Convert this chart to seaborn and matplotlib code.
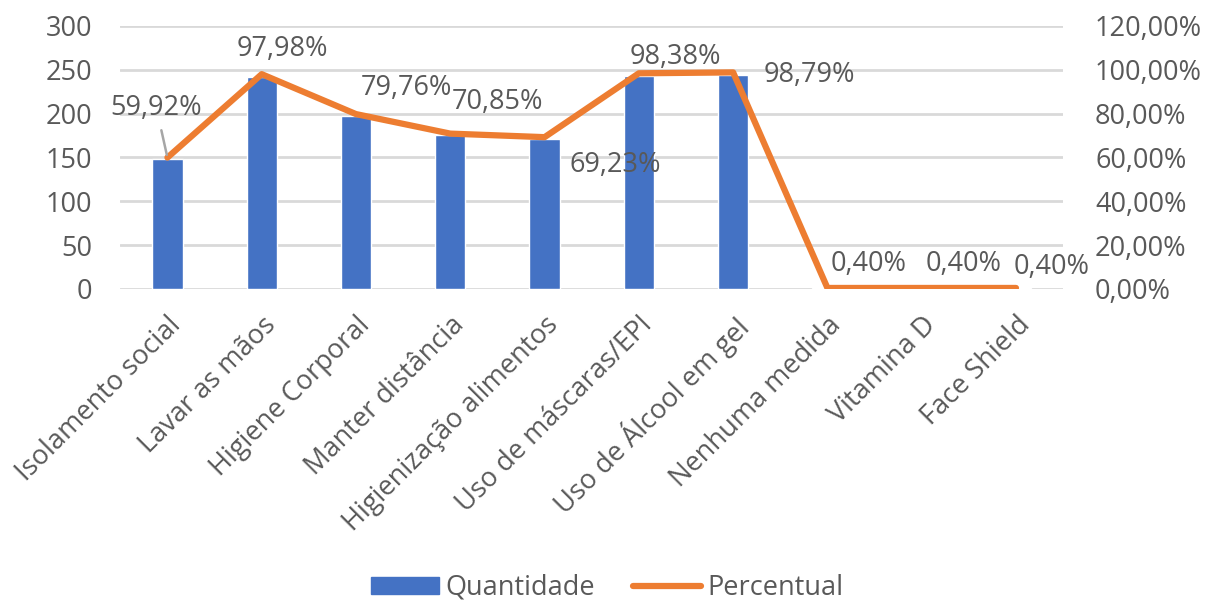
import numpy as np
import pandas as pd
import seaborn as sns
from matplotlib import pyplot as plt
from matplotlib.patches import Patch
from matplotlib.lines import Line2D

categorias = ["Isolamento social", "Lavar as mãos", "Higiene Corporal", "Manter distância",
              "Higienização alimentos", "Uso de máscaras/EPI", "Uso de Álcool em gel",
              "Nenhuma medida", "Vitamina D", "Face Shield"]
quantidade = [148, 242, 197, 175, 171, 243, 244, 1, 1, 1]
percentual = [59.92, 97.98, 79.76, 70.85, 69.23, 98.38, 98.79, 0.40, 0.40, 0.40]
# label offsets (points) relative to each line point, as placed in the original
offsets = [(-8, 36), (15, 18), (36, 19), (34, 23), (51, -20), (26, 12), (55, -2), (30, 17), (30, 17), (26, 15)]

BLUE = "#4472C4"
ORANGE = "#ED7D31"
GRAY = "#595959"
FS = 19.5

sns.set_style("white")
plt.rcParams['font.family'] = ['Open Sans', 'DejaVu Sans']

df = pd.DataFrame({"cat": categorias, "qtd": quantidade, "pct": percentual})

fig = plt.figure(figsize=(12.15, 6.03), dpi=100)
ax = fig.add_axes([0.099, 0.521, 0.776, 0.436])
ax2 = ax.twinx()

sns.barplot(data=df, x="cat", y="qtd", color=BLUE, width=0.32, saturation=1, ax=ax, zorder=2)
sns.lineplot(x=np.arange(len(categorias)), y=df["pct"], color=ORANGE, linewidth=4.5, ax=ax2,
             solid_joinstyle="round", solid_capstyle="round")

ax.set_ylim(0, 300)
ax.set_yticks(range(0, 301, 50))
ax2.set_ylim(0, 120)
ax2.set_yticks(range(0, 121, 20))
ax2.set_yticklabels([f"{v},00%" for v in range(0, 121, 20)])
ax.set_xlim(-0.5, len(categorias) - 0.5)

ax.yaxis.grid(True, color="#d9d9d9", linewidth=2)
ax.set_axisbelow(True)
for a in (ax, ax2):
    for s in a.spines.values():
        s.set_visible(False)
    a.tick_params(length=0, labelsize=FS, labelcolor=GRAY)
    a.set_xlabel("")
    a.set_ylabel("")
ax.tick_params(axis="y", pad=20)
ax2.tick_params(axis="y", pad=23)

ax.set_xticks(range(len(categorias)))
ax.set_xticklabels(categorias, rotation=45, ha="right", rotation_mode="anchor")
ax.tick_params(axis="x", pad=16)

for i, (p, off) in enumerate(zip(percentual, offsets)):
    txt = f"{p:.2f}%".replace(".", ",")
    if i == 0:
        ax2.annotate(txt, xy=(i, p), xytext=off, textcoords="offset points", ha="center", va="center",
                     fontsize=FS, color=GRAY,
                     arrowprops=dict(arrowstyle="-", color="#a6a6a6", lw=1.8, shrinkA=4, shrinkB=2))
    else:
        ax2.annotate(txt, xy=(i, p), xytext=off, textcoords="offset points", ha="center", va="center",
                     fontsize=FS, color=GRAY)

handles = [Patch(facecolor=BLUE, edgecolor=BLUE),
           Line2D([0], [0], color=ORANGE, linewidth=4.5, solid_capstyle="round")]
fig.legend(handles, ["Quantidade", "Percentual"], loc="center", bbox_to_anchor=(0.5, 0.025),
           ncol=2, frameon=False, fontsize=FS, labelcolor=GRAY, handlelength=2.5,
           handletextpad=0.25, columnspacing=1.4, handleheight=0.55)

fig.savefig("out.png", dpi=100)
